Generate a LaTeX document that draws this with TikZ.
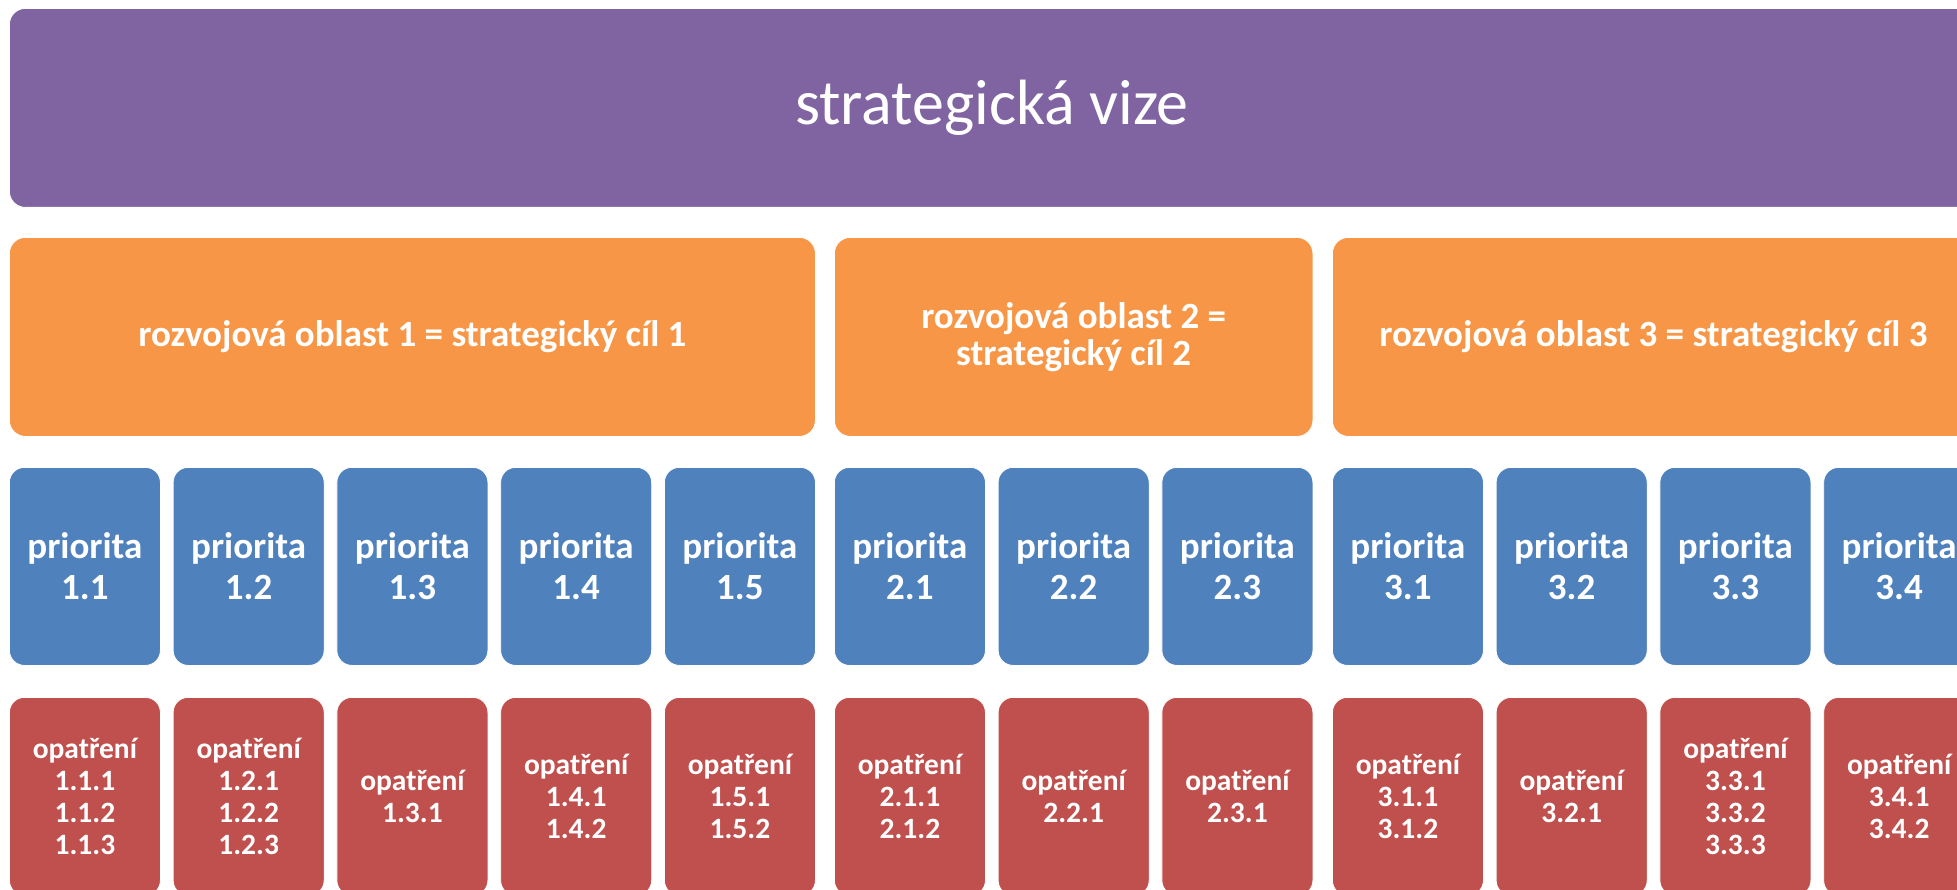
\documentclass[tikz,border=0pt]{standalone}
\usepackage{fontspec}
\setmainfont{Carlito}
\definecolor{vizecol}{HTML}{8064A2}
\definecolor{cilcol}{HTML}{F79646}
\definecolor{priocol}{HTML}{4F81BD}
\definecolor{opcol}{HTML}{C0504D}
\begin{document}
\begin{tikzpicture}[x=1pt,y=-1pt,
  box/.style={rounded corners=15pt, draw=white, line width=0.8pt, text=white, align=center, inner sep=0pt, anchor=north west},
  vize/.style={box, fill=vizecol, minimum width=1965pt, minimum height=199pt, rounded corners=16pt, font=\fontsize{64}{72}\selectfont},
  cil/.style={box, fill=cilcol, minimum height=199pt, rounded corners=16pt, font=\bfseries\fontsize{37}{44}\selectfont},
  prio/.style={box, fill=priocol, minimum width=151pt, minimum height=198pt, font=\bfseries\fontsize{37}{41}\selectfont},
  opat/.style={box, fill=opcol, minimum width=151pt, minimum height=198pt, font=\bfseries\fontsize{29.5}{32.3}\selectfont}
]
\useasboundingbox (0,0) rectangle (1957,890);
\clip (0,0) rectangle (1957,890);
\fill[white] (0,0) rectangle (1957,890);

\node[vize] (vize) at (9,8) {\raisebox{-4pt}{strategická vize}};

\node[cil, minimum width=806pt] (c1) at (9,237) {\raisebox{-3pt}{rozvojová oblast 1 = strategický cíl 1}};
\node[cil, minimum width=478.5pt] (c2) at (834,237) {\raisebox{-4pt}{\shortstack{rozvojová oblast 2 =\\[2pt]strategický cíl 2}}};
\node[cil, minimum width=642pt] (c3) at (1332,237) {\raisebox{-3pt}{rozvojová oblast 3 = strategický cíl 3}};

\node[prio] (p11) at (9,467) {priorita\\1.1};
\node[prio] (p12) at (172.75,467) {priorita\\1.2};
\node[prio] (p13) at (336.5,467) {priorita\\1.3};
\node[prio] (p14) at (500.25,467) {priorita\\1.4};
\node[prio] (p15) at (664,467) {priorita\\1.5};
\node[prio] (p21) at (834,467) {priorita\\2.1};
\node[prio] (p22) at (997.75,467) {priorita\\2.2};
\node[prio] (p23) at (1161.5,467) {priorita\\2.3};
\node[prio] (p31) at (1332,467) {priorita\\3.1};
\node[prio] (p32) at (1495.75,467) {priorita\\3.2};
\node[prio] (p33) at (1659.5,467) {priorita\\3.3};
\node[prio] (p34) at (1823.25,467) {priorita\\3.4};

\node[opat] (o11) at (9,697) {opatření\\1.1.1\\1.1.2\\1.1.3};
\node[opat] (o12) at (172.75,697) {opatření\\1.2.1\\1.2.2\\1.2.3};
\node[opat] (o13) at (336.5,697) {opatření\\1.3.1};
\node[opat] (o14) at (500.25,697) {opatření\\1.4.1\\1.4.2};
\node[opat] (o15) at (664,697) {opatření\\1.5.1\\1.5.2};
\node[opat] (o21) at (834,697) {opatření\\2.1.1\\2.1.2};
\node[opat] (o22) at (997.75,697) {opatření\\2.2.1};
\node[opat] (o23) at (1161.5,697) {opatření\\2.3.1};
\node[opat] (o31) at (1332,697) {opatření\\3.1.1\\3.1.2};
\node[opat] (o32) at (1495.75,697) {opatření\\3.2.1};
\node[opat] (o33) at (1659.5,697) {opatření\\3.3.1\\3.3.2\\3.3.3};
\node[opat] (o34) at (1823.25,697) {opatření\\3.4.1\\3.4.2};
\end{tikzpicture}
\end{document}
